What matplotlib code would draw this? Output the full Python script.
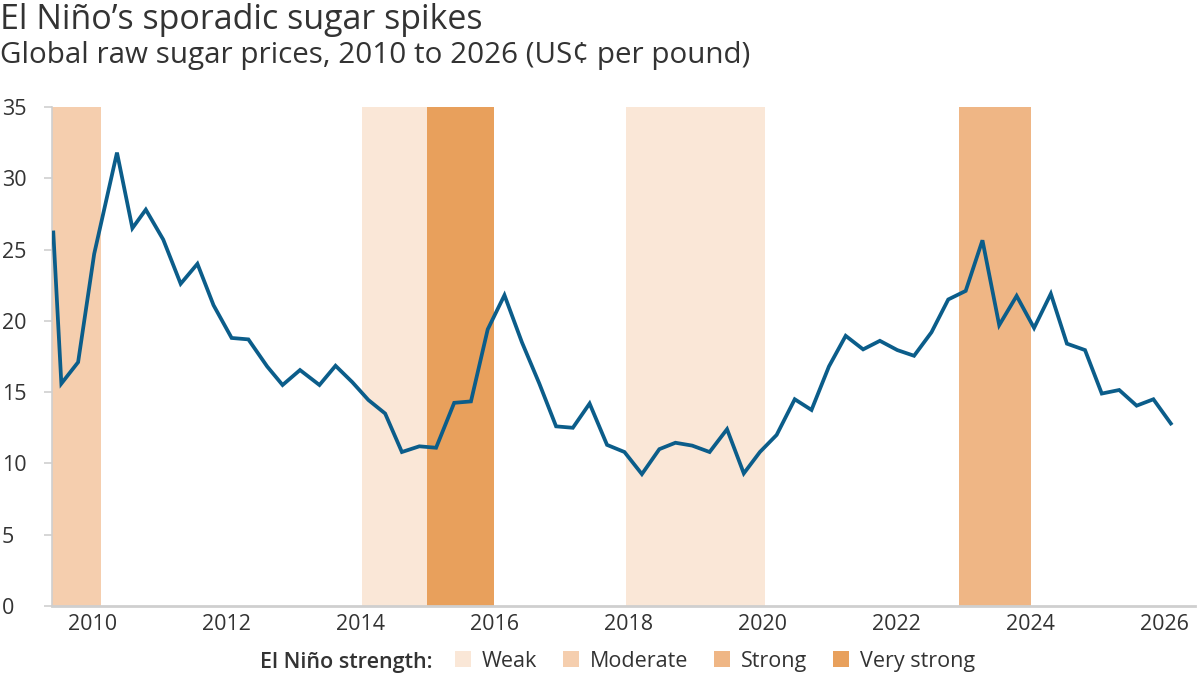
import matplotlib.pyplot as plt
from matplotlib.patches import Patch

plt.rcParams['font.family'] = ['Open Sans', 'DejaVu Sans']

# quarterly raw sugar prices (US cents per pound)
years = [2009.42, 2009.54, 2009.79, 2010.03, 2010.37, 2010.60, 2010.80, 2011.06,
         2011.32, 2011.57, 2011.81, 2012.08, 2012.33, 2012.61, 2012.84, 2013.10,
         2013.39, 2013.63, 2013.88, 2014.12, 2014.37, 2014.62, 2014.88, 2015.13,
         2015.40, 2015.65, 2015.90, 2016.15, 2016.41, 2016.67, 2016.92, 2017.17,
         2017.42, 2017.68, 2017.94, 2018.20, 2018.46, 2018.70, 2018.95, 2019.21,
         2019.47, 2019.72, 2019.96, 2020.21, 2020.48, 2020.73, 2020.99, 2021.24,
         2021.50, 2021.75, 2022.01, 2022.26, 2022.52, 2022.77, 2023.03, 2023.28,
         2023.53, 2023.79, 2024.05, 2024.30, 2024.54, 2024.81, 2025.06, 2025.32,
         2025.58, 2025.83, 2026.09]
prices = [26.2, 15.6, 17.1, 24.7, 31.8, 26.5, 27.8, 25.7,
          22.6, 24.0, 21.1, 18.8, 18.7, 16.8, 15.5, 16.55,
          15.5, 16.85, 15.7, 14.45, 13.5, 10.8, 11.2, 11.1,
          14.25, 14.35, 19.4, 21.8, 18.5, 15.6, 12.6, 12.5,
          14.2, 11.3, 10.8, 9.25, 11.0, 11.45, 11.25, 10.8,
          12.4, 9.3, 10.8, 12.0, 14.5, 13.75, 16.8, 18.95,
          18.0, 18.6, 17.95, 17.55, 19.2, 21.5, 22.1, 25.65,
          19.7, 21.75, 19.5, 21.9, 18.4, 17.95, 14.9, 15.15,
          14.05, 14.5, 12.8]

# El Nino episodes: start, end, strength
episode_start = [2009.40, 2014.03, 2015.00, 2017.97, 2022.93]
episode_end = [2010.13, 2015.00, 2016.00, 2020.03, 2024.00]
episode_strength = ['Moderate', 'Weak', 'Very strong', 'Weak', 'Strong']

strengths = ['Weak', 'Moderate', 'Strong', 'Very strong']
strength_colors = {'Weak': '#fae7d7', 'Moderate': '#f5ceae',
                   'Strong': '#efb685', 'Very strong': '#e8a05c'}

text_color = '#333333'
grid_grey = '#cfcfcf'

fig = plt.figure(figsize=(12, 6.78), dpi=100)
ax = fig.add_axes([0.0433, 0.1062, 0.9525, 0.736])

for s, e, k in zip(episode_start, episode_end, episode_strength):
    ax.axvspan(s, e, color=strength_colors[k], lw=0, zorder=1)

ax.plot(years, prices, color='#0b5d8a', lw=2.7, zorder=3, solid_joinstyle='miter')

ax.set_xlim(2009.40, 2026.45)
ax.set_ylim(0, 35)

ax.set_yticks(range(0, 36, 5))
ax.set_xticks(range(2010, 2027, 2))

for side in ['top', 'right']:
    ax.spines[side].set_visible(False)
ax.spines['left'].set_color(grid_grey)
ax.spines['left'].set_linewidth(1.2)
ax.spines['bottom'].set_color(grid_grey)
ax.spines['bottom'].set_linewidth(2)
ax.spines['bottom'].set_zorder(4)

ax.tick_params(axis='y', length=6, width=1.2, color=grid_grey, pad=30,
               labelsize=15.5, labelcolor=text_color)
ax.tick_params(axis='x', length=0, pad=6, labelsize=15.5, labelcolor=text_color)
for lab in ax.get_yticklabels():
    lab.set_horizontalalignment('left')

fig.text(0.0, 0.995, 'El Niño’s sporadic sugar spikes', fontsize=24.5,
         fontweight='medium', color=text_color, va='top', ha='left')
fig.text(0.0, 0.94, 'Global raw sugar prices, 2010 to 2026 (US¢ per pound)',
         fontsize=21.3, color=text_color, va='top', ha='left')

# legend along the bottom
fig.text(0.36, 0.008, 'El Niño strength:', fontsize=15.5, fontweight='semibold',
         color=text_color, ha='right', va='bottom')
handles = [Patch(facecolor=strength_colors[k], edgecolor='none', label=k) for k in strengths]
fig.legend(handles=handles, loc='lower left', bbox_to_anchor=(0.363, -0.019),
           ncol=4, frameon=False, fontsize=15.5, handlelength=0.75, handleheight=0.75,
           handletextpad=0.5, columnspacing=1.2, labelcolor=text_color)

fig.savefig('out.png', dpi=100)
